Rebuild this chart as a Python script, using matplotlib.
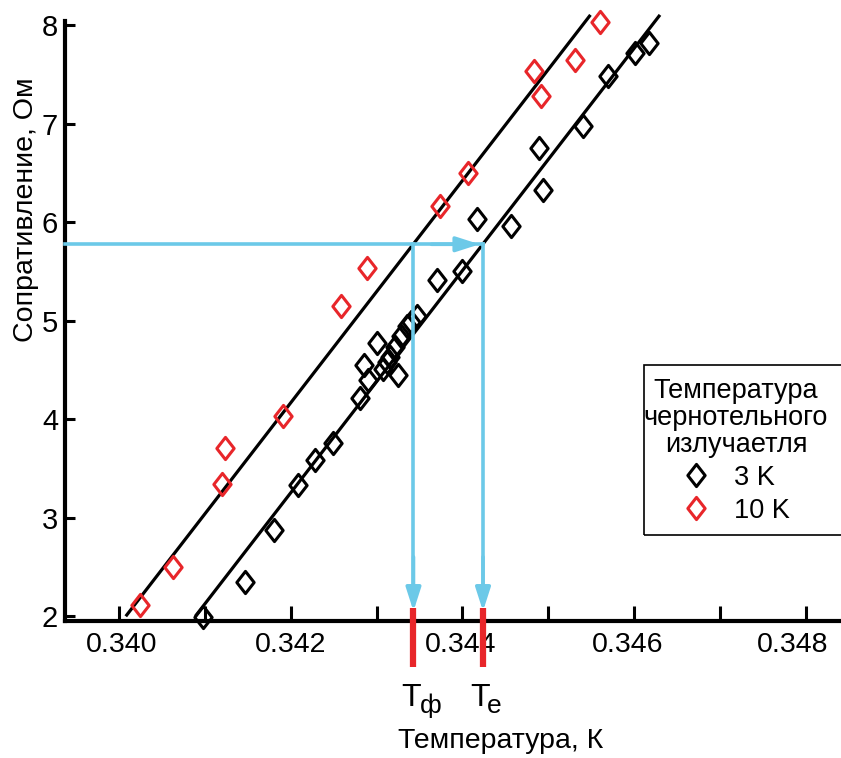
"""Resistance vs temperature for two blackbody temperatures, with T_f / T_e read-off."""

import matplotlib.pyplot as plt
from matplotlib.patches import Rectangle
from matplotlib.path import Path as MPath
from matplotlib.transforms import ScaledTranslation
import numpy as np

plt.rcParams["font.family"] = ["Liberation Sans", "DejaVu Sans"]

# 10 K blackbody (red)
T_10K = [0.34024, 0.34063, 0.34120, 0.34124, 0.34191, 0.34259, 0.34289,
         0.34374, 0.34407, 0.34483, 0.34491, 0.34531, 0.34560]
R_10K = [2.11, 2.50, 3.34, 3.71, 4.03, 5.15, 5.53,
         6.16, 6.50, 7.53, 7.28, 7.65, 8.03]

# 3 K blackbody (black)
T_3K = [0.34098, 0.34147, 0.34181, 0.34209, 0.34228, 0.34249, 0.34281,
        0.34290, 0.34285, 0.34300, 0.34308, 0.34312, 0.34316, 0.34322,
        0.34325, 0.34329, 0.34335, 0.34340, 0.34347, 0.34370, 0.34400,
        0.34417, 0.34457, 0.34489, 0.34494, 0.34540, 0.34570, 0.34601,
        0.34617]
R_3K = [1.99, 2.35, 2.87, 3.33, 3.58, 3.76, 4.21,
        4.40, 4.55, 4.77, 4.51, 4.58, 4.63, 4.73,
        4.45, 4.84, 4.94, 4.99, 5.05, 5.41, 5.50,
        6.03, 5.96, 6.75, 6.33, 6.97, 7.48, 7.72,
        7.82]

# fitted lines (end points)
FIT_10K_T = [0.34009, 0.34548]
FIT_10K_R = [2.01, 8.09]
FIT_3K_T = [0.34090, 0.34629]
FIT_3K_R = [2.01, 8.09]

R_READ = 5.774          # resistance used for the read-off
T_F = 0.34343           # T_ф
T_E = 0.34424           # T_e

XTICKS = [0.340, 0.342, 0.344, 0.346, 0.348]
XTICK_LABELS = ["0.340", "0.342", "0.344", "0.346", "0.348"]

BLUE = "#6cc9e8"
RED = "#e8262a"

diamond = MPath([(0, 1), (0.78, 0), (0, -1), (-0.78, 0), (0, 1)],
                [MPath.MOVETO, MPath.LINETO, MPath.LINETO, MPath.LINETO, MPath.CLOSEPOLY])


def main() -> None:
    fig = plt.figure(figsize=(8.41, 7.58), dpi=100)
    ax = fig.add_axes([0.0773, 0.1807, 0.9227, 0.792])

    ax.plot(FIT_10K_T, FIT_10K_R, color="black", lw=2.3, clip_on=False, zorder=2)
    ax.plot(FIT_3K_T, FIT_3K_R, color="black", lw=2.3, clip_on=False, zorder=2)

    ax.plot(T_3K, R_3K, ls="none", marker=diamond, ms=16, mfc="none", mec="black",
            mew=2.2, clip_on=False, zorder=3, label="3 K")
    ax.plot(T_10K, R_10K, ls="none", marker=diamond, ms=16, mfc="none", mec=RED,
            mew=2.2, clip_on=False, zorder=3, label="10 K")

    xmin, xmax = 0.339371, 0.348410
    ymin, ymax = 1.949, 8.044
    ax.set_xlim(xmin, xmax)
    ax.set_ylim(ymin, ymax)

    # blue read-off arrows
    arrow = dict(arrowstyle="-|>,head_length=1.4,head_width=0.45", color=BLUE, lw=2.6,
                 shrinkA=0, shrinkB=0)
    ax.plot([xmin, T_E], [R_READ, R_READ], color=BLUE, lw=2.6, zorder=4, clip_on=False)
    ax.annotate("", xy=(T_E - 0.00004, R_READ), xytext=(T_E - 0.0006, R_READ),
                arrowprops=arrow, zorder=4)
    for t in (T_F, T_E):
        ax.plot([t, t], [R_READ, 2.2], color=BLUE, lw=2.6, zorder=4)
        ax.annotate("", xy=(t, ymin + 0.1), xytext=(t, 2.6), arrowprops=arrow, zorder=4)
        ax.plot([t, t], [ymin + 0.13, ymin - 0.47], color=RED, lw=4.5,
                solid_capstyle="butt", clip_on=False, zorder=5)

    # T labels under the axis
    ax.annotate("T", xy=(T_F, ymin), xytext=(-1.5, -61), textcoords="offset points",
                ha="center", va="baseline", fontsize=23, annotation_clip=False)
    ax.annotate("ф", xy=(T_F, ymin), xytext=(4.5, -66), textcoords="offset points",
                ha="left", va="baseline", fontsize=19, annotation_clip=False)
    ax.annotate("T", xy=(T_E, ymin), xytext=(-2, -61), textcoords="offset points",
                ha="center", va="baseline", fontsize=23, annotation_clip=False)
    ax.annotate("e", xy=(T_E, ymin), xytext=(2.5, -66), textcoords="offset points",
                ha="left", va="baseline", fontsize=19, annotation_clip=False)

    for s in ("top", "right"):
        ax.spines[s].set_visible(False)
    for s in ("left", "bottom"):
        ax.spines[s].set_linewidth(3)

    ax.set_xticks(XTICKS)
    ax.set_xticklabels(XTICK_LABELS)
    ax.set_xticks(np.arange(0.341, 0.3485, 0.002), minor=True)
    ax.set_yticks([2, 3, 4, 5, 6, 7, 8])
    ax.tick_params(axis="x", which="both", direction="in", length=11, width=2.2,
                   labelsize=20.5, pad=8)
    ax.tick_params(axis="y", direction="in", length=7, width=2.2, labelsize=21, pad=5)
    # the original labels drift slightly left of their ticks
    for lab, dx in zip(ax.get_xticklabels(), [3, 0, -2, -6, -13]):
        lab.set_transform(lab.get_transform() + ScaledTranslation(dx / 100, 0, fig.dpi_scale_trans))

    ax.set_xlabel("Температура, К", fontsize=20.5)
    ax.xaxis.set_label_coords(0.562, -0.178)
    ax.set_ylabel("Сопративление, Ом", fontsize=20.5)
    ax.yaxis.set_label_coords(-0.034, 0.685)

    # legend box runs off the right edge of the picture
    fig.patches.append(Rectangle((644 / 841, 1 - 535 / 758), 0.3, 170 / 758,
                                 transform=fig.transFigure, fill=False,
                                 ec="black", lw=1.2))
    leg = ax.legend(title="Температура\nчернотельного\nизлучаетля", fontsize=19.5,
                    title_fontsize=19.5, loc="upper center",
                    bbox_to_anchor=(736 / 841, 1 - 366 / 758),
                    bbox_transform=fig.transFigure, frameon=False,
                    handletextpad=0.9, handlelength=1.0,
                    borderpad=0.45, labelspacing=0.25, borderaxespad=0)
    leg.get_title().set_multialignment("center")
    leg.get_title().set_linespacing(1.05)

    fig.savefig("out.png", dpi=100)


if __name__ == "__main__":
    main()
